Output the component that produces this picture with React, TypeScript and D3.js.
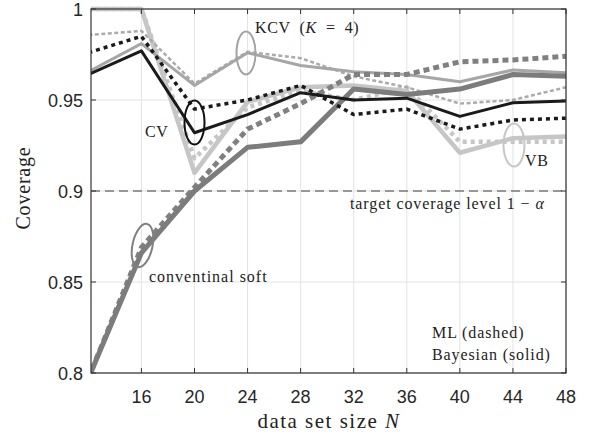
import React from "react";
import * as d3 from "d3";

const N = [12, 16, 20, 24, 28, 32, 36, 40, 44, 48];
const xTicks = [16, 20, 24, 28, 32, 36, 40, 44, 48];
const yTicks = [0.8, 0.85, 0.9, 0.95, 1];
const yTickLabels = ["0.8", "0.85", "0.9", "0.95", "1"];

const convBayes = [0.797, 0.866, 0.9, 0.924, 0.927, 0.956, 0.953, 0.956, 0.964, 0.963];
const convML = [0.797, 0.869, 0.902, 0.934, 0.948, 0.964, 0.964, 0.971, 0.972, 0.974];
const cvBayes = [0.964, 0.977, 0.932, 0.942, 0.954, 0.95, 0.951, 0.941, 0.9485, 0.9495];
const cvML = [0.976, 0.985, 0.945, 0.95, 0.958, 0.942, 0.945, 0.934, 0.939, 0.94];
const kcvBayes = [0.9655, 0.981, 0.958, 0.976, 0.969, 0.9655, 0.964, 0.96, 0.9665, 0.965];
const kcvML = [0.9857, 0.988, 0.959, 0.9765, 0.973, 0.963, 0.957, 0.948, 0.95, 0.957];
const vbBayes = [1.0, 1.0, 0.91, 0.949, 0.957, 0.958, 0.955, 0.921, 0.929, 0.93];
const vbML = [1.0, 1.0, 0.918, 0.946, 0.955, 0.95, 0.957, 0.927, 0.927, 0.927];
const target = 0.9;

const W = 589;
const H = 438;
const L = 91;
const R = 566;
const T = 9;
const B = 373;

const serif = "'Liberation Serif', 'Times New Roman', serif";
const sans = "'Liberation Sans', Arial, sans-serif";

const series = [
  { v: vbML, color: "#c6c6c6", w: 4.5, dash: "4 4" },
  { v: vbBayes, color: "#c6c6c6", w: 4.5, dash: null },
  { v: kcvML, color: "#ababab", w: 2.5, dash: "4 2.5" },
  { v: kcvBayes, color: "#a6a6a6", w: 3, dash: null },
  { v: convML, color: "#808080", w: 5, dash: "6 4" },
  { v: convBayes, color: "#7c7c7c", w: 5, dash: null },
  { v: cvML, color: "#1a1a1a", w: 3.5, dash: "4 4" },
  { v: cvBayes, color: "#1a1a1a", w: 3, dash: null },
];

export default function App() {
  const x = d3.scaleLinear().domain([12.2, 48]).range([L, R]);
  const y = d3.scaleLinear().domain([0.8, 1]).range([B, T]);
  const line = (vals: number[]) =>
    d3
      .line<number>()
      .x((_, i) => x(N[i]))
      .y((d) => y(d))(vals) as string;

  return (
    <svg
      width={W}
      height={H}
      style={{ position: "absolute", left: 0, top: 0, background: "#fff" }}
    >
      <defs>
        <clipPath id="plotclip">
          <rect x={L} y={T - 3} width={R - L} height={B - T + 3} />
        </clipPath>
      </defs>
      <rect x={0} y={0} width={W} height={H} fill="#fff" />
      {/* grid */}
      {xTicks.map((t) => (
        <line key={"gx" + t} x1={x(t)} x2={x(t)} y1={T} y2={B} stroke="#e3e3e3" strokeWidth={1} />
      ))}
      {yTicks.map((t) => (
        <line key={"gy" + t} x1={L} x2={R} y1={y(t)} y2={y(t)} stroke="#e3e3e3" strokeWidth={1} />
      ))}
      {/* target line */}
      <line
        x1={L}
        x2={R}
        y1={y(target)}
        y2={y(target)}
        stroke="#7a7a7a"
        strokeWidth={1.4}
        strokeDasharray="9 5"
      />
      {/* data */}
      <g clipPath="url(#plotclip)">
        {series.map((s, i) => (
          <path
            key={i}
            d={line(s.v)}
            fill="none"
            stroke={s.color}
            strokeWidth={s.w}
            strokeDasharray={s.dash || undefined}
            strokeLinejoin="round"
          />
        ))}
      </g>
      {/* box */}
      <rect x={L} y={T} width={R - L} height={B - T} fill="none" stroke="#333" strokeWidth={1.2} />
      {xTicks.map((t) => (
        <g key={"tx" + t}>
          <line x1={x(t)} x2={x(t)} y1={B} y2={B - 5} stroke="#333" strokeWidth={1} />
          <line x1={x(t)} x2={x(t)} y1={T} y2={T + 5} stroke="#333" strokeWidth={1} />
          <text x={x(t)} y={403} textAnchor="middle" fontFamily={sans} fontSize={18} fill="#262626">
            {t}
          </text>
        </g>
      ))}
      {yTicks.map((t, i) => (
        <g key={"ty" + t}>
          <line x1={L} x2={L + 5} y1={y(t)} y2={y(t)} stroke="#333" strokeWidth={1} />
          <line x1={R} x2={R - 5} y1={y(t)} y2={y(t)} stroke="#333" strokeWidth={1} />
          <text x={83} y={y(t) + 6.5} textAnchor="end" fontFamily={sans} fontSize={18} fill="#262626">
            {yTickLabels[i]}
          </text>
        </g>
      ))}
      {/* axis labels */}
      <text
        x={329}
        y={428}
        textAnchor="middle"
        fontFamily={serif}
        fontSize={21}
        letterSpacing={1.5}
        fill="#222"
      >
        data set size <tspan fontStyle="italic">N</tspan>
      </text>
      <text
        transform="translate(30,188) rotate(-90)"
        textAnchor="middle"
        fontFamily={serif}
        fontSize={20}
        letterSpacing={0.8}
        fill="#222"
      >
        Coverage
      </text>
      {/* annotations */}
      <g fontFamily={serif} fill="#222">
        <text x={255} y={33} fontSize={16} letterSpacing={0.6} xmlSpace="preserve">
          KCV  (<tspan fontStyle="italic">K</tspan>  =  4)
        </text>
        <text x={145} y={137} fontSize={16} letterSpacing={0.6}>CV</text>
        <text x={525} y={166} fontSize={16} letterSpacing={0.6}>VB</text>
        <text x={350} y={209} fontSize={16} letterSpacing={0.9} xmlSpace="preserve">
          target coverage level 1 − <tspan fontStyle="italic">α</tspan>
        </text>
        <text x={149} y={282} fontSize={16} letterSpacing={1}>conventinal soft</text>
        <text x={432} y={338} fontSize={16} letterSpacing={0.9}>ML (dashed)</text>
        <text x={432} y={360} fontSize={16} letterSpacing={0.9}>Bayesian (solid)</text>
      </g>
      {/* ellipses */}
      <ellipse cx={246} cy={53} rx={9.5} ry={21.5} fill="none" stroke="#a3a3a3" strokeWidth={2} />
      <ellipse cx={194.5} cy={122.5} rx={10} ry={22} fill="none" stroke="#111" strokeWidth={2} />
      <ellipse cx={514} cy={145} rx={10.5} ry={21.5} fill="none" stroke="#c6c6c6" strokeWidth={2} />
      <ellipse
        cx={142.5}
        cy={245.5}
        rx={10}
        ry={22}
        fill="none"
        stroke="#808080"
        strokeWidth={2}
        transform="rotate(12,142.5,245.5)"
      />
    </svg>
  );
}
